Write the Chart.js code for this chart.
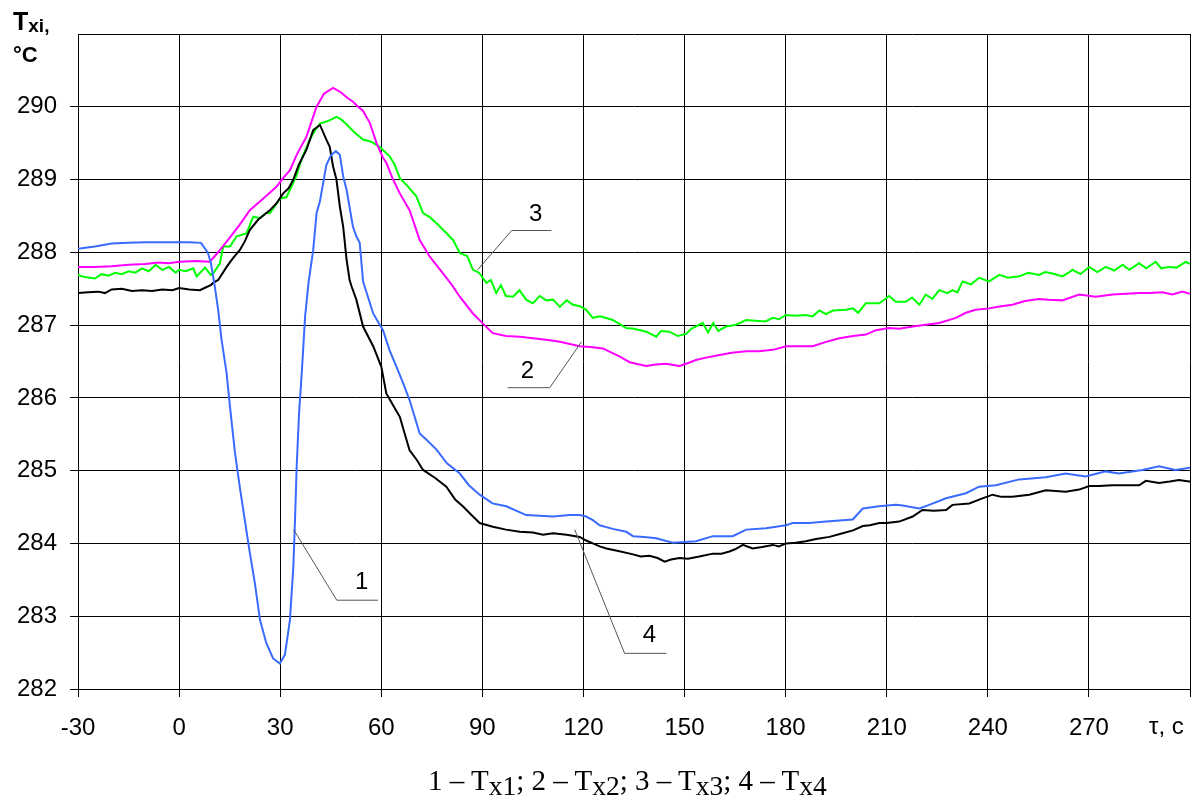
<!DOCTYPE html>
<html><head><meta charset="utf-8">
<script src="https://cdn.jsdelivr.net/npm/chart.js@4/dist/chart.umd.min.js"></script>
<style>
html,body{margin:0;padding:0;background:#fff;}
#wrap{position:relative;width:1197px;height:805px;}
#c{position:absolute;left:0;top:0;}
#ov{position:absolute;left:0;top:0;pointer-events:none;}
</style></head>
<body><div id="wrap"><canvas id="c" width="1197" height="805"></canvas>
<svg id="ov" width="1197" height="805" xmlns="http://www.w3.org/2000/svg">
<text x="13" y="30" font-family="Liberation Sans, Arial, sans-serif" font-weight="bold" font-size="25">T<tspan font-size="19" dy="2">xi,</tspan></text>
<text x="13" y="62" font-family="Liberation Sans, Arial, sans-serif" font-weight="bold" font-size="22">°C</text>
<text x="1149" y="734" font-family="Liberation Sans, Arial, sans-serif" font-size="24">τ, c</text>
<text id="cap" x="428" y="790" font-family="Liberation Serif, Times New Roman, serif" font-size="29">1 – T<tspan font-size="27.5" dy="5">x1</tspan><tspan dy="-5">; 2 – T</tspan><tspan font-size="27.5" dy="5">x2</tspan><tspan dy="-5">; 3 – T</tspan><tspan font-size="27.5" dy="5">x3</tspan><tspan dy="-5">; 4 – T</tspan><tspan font-size="27.5" dy="5">x4</tspan></text>
</svg></div>
<script>
// Axis ticks
const xTicks = [-30, 0, 30, 60, 90, 120, 150, 180, 210, 240, 270, 300];
const yTicks = [282, 283, 284, 285, 286, 287, 288, 289, 290, 291];

// Series: [time, temperature]
const tx1 = [[-30,288.05],[-25,288.08],[-20,288.12],[-15,288.13],[-10,288.14],[-5,288.14],[0,288.14],[3,288.14],[6.5,288.13],[8.5,288.0],[9.4,287.86],[10.1,287.67],[10.6,287.53],[11.6,287.21],[12.6,286.80],[14.1,286.34],[15.1,285.88],[16.6,285.24],[18.0,284.78],[19.5,284.32],[21.0,283.87],[22.5,283.45],[24.0,282.95],[25.9,282.63],[27.9,282.42],[29.9,282.35],[31.4,282.47],[32.9,282.95],[33.9,283.68],[34.4,284.32],[34.9,285.06],[35.6,285.79],[36.4,286.34],[37.4,287.12],[38.4,287.58],[39.8,288.03],[40.8,288.54],[41.8,288.7],[43.7,289.2],[45.0,289.33],[46.5,289.39],[47.7,289.34],[48.7,289.04],[49.7,288.86],[51.6,288.35],[52.6,288.22],[53.6,288.13],[54.6,287.6],[57.6,287.16],[60.5,286.93],[62.5,286.65],[64.5,286.43],[66.5,286.2],[68.4,285.97],[71.4,285.51],[73.5,285.42],[76.4,285.29],[79.5,285.1],[83.3,284.96],[86,284.8],[89.2,284.67],[93,284.55],[97.1,284.51],[103.0,284.39],[107,284.38],[111.0,284.37],[115.9,284.39],[118.9,284.39],[120.8,284.37],[122.8,284.32],[124.8,284.25],[128.7,284.2],[132.7,284.16],[134.7,284.10],[138,284.09],[141.6,284.07],[146.5,284.01],[150,284.02],[153.4,284.03],[158.4,284.10],[164.3,284.10],[168.3,284.19],[174.2,284.21],[180.1,284.25],[182.1,284.28],[187,284.28],[192.0,284.30],[199.9,284.33],[202.9,284.48],[207.8,284.51],[212.7,284.53],[214.7,284.52],[219.7,284.48],[222.6,284.53],[227.6,284.62],[233.5,284.69],[237.4,284.78],[242.4,284.80],[249.3,284.88],[257.2,284.91],[263.1,284.96],[269.0,284.92],[275.0,284.99],[278.9,284.96],[285.9,285.01],[290.8,285.06],[295.7,285.01],[300,285.04]];

const tx2 = [[-30,287.80],[-25,287.80],[-20,287.81],[-15,287.83],[-10,287.84],[-6.3,287.86],[-3,287.85],[0,287.87],[5,287.88],[9.1,287.87],[10.6,287.95],[12.1,288.03],[15,288.2],[18,288.38],[21,288.58],[25,288.74],[28.9,288.90],[30.5,289.0],[32.9,289.13],[35,289.35],[37.8,289.59],[40.8,290.0],[43,290.18],[45.7,290.26],[48,290.2],[50,290.12],[51.6,290.07],[53.1,290.0],[54.5,289.95],[56.6,289.78],[58.6,289.5],[60.5,289.3],[61.5,289.23],[63.5,289.0],[65.5,288.81],[68.4,288.58],[71.4,288.17],[74.4,287.94],[78.3,287.71],[81,287.55],[83.3,287.39],[87.2,287.16],[90.2,287.02],[93.1,286.89],[97,286.85],[101.1,286.84],[105,286.82],[108.9,286.80],[113,286.77],[118.9,286.71],[122,286.70],[125.8,286.68],[128,286.63],[130.7,286.57],[133.7,286.49],[138.6,286.44],[141.5,286.46],[144.5,286.47],[148.5,286.44],[150.5,286.47],[153.4,286.52],[156,286.55],[160.4,286.59],[164,286.62],[168.3,286.64],[172,286.64],[176.2,286.66],[180.1,286.71],[184,286.71],[188.0,286.71],[192,286.77],[196.0,286.82],[200,286.85],[203.8,286.87],[206.8,286.93],[210.7,286.96],[213.7,286.95],[217.7,286.98],[221,287.0],[225.6,287.03],[230.5,287.10],[233.5,287.17],[236.4,287.21],[240.4,287.23],[244,287.26],[247.3,287.28],[251,287.33],[255.2,287.36],[258,287.35],[262.1,287.34],[267.1,287.42],[272.0,287.39],[277.0,287.42],[281,287.43],[284.9,287.44],[288,287.44],[291.8,287.45],[294.8,287.42],[297.7,287.46],[300,287.43]];

const tx3 = [[-30,287.69],[-28,287.66],[-25,287.64],[-23,287.70],[-21,287.68],[-19,287.72],[-17,287.70],[-15,287.74],[-13,287.72],[-11,287.78],[-9,287.74],[-7,287.83],[-5,287.76],[-3,287.80],[-1,287.72],[0,287.76],[2,287.74],[4.2,287.78],[5.2,287.67],[7.7,287.79],[9.4,287.69],[10.1,287.71],[12.1,287.85],[13.1,288.08],[15.1,288.08],[17.1,288.22],[20,288.26],[22,288.49],[24,288.47],[25.9,288.54],[27,288.54],[30,288.74],[31.9,288.76],[34.8,289.05],[36.5,289.3],[38.8,289.55],[40,289.65],[41.8,289.77],[44,289.8],[46.7,289.86],[48,289.83],[49.7,289.76],[52,289.65],[54.6,289.55],[57,289.52],[59.5,289.45],[62.5,289.32],[64,289.2],[65.5,289.02],[68,288.9],[70.4,288.77],[72.4,288.54],[74.5,288.48],[76.4,288.40],[79,288.28],[81.3,288.17],[83.3,287.99],[85.5,287.95],[87.2,287.76],[89,287.72],[91.2,287.58],[92.5,287.62],[94.1,287.44],[95.5,287.55],[97,287.40],[99.1,287.39],[101,287.48],[103,287.35],[105,287.30],[107,287.40],[109,287.34],[111,287.35],[113,287.25],[115,287.34],[116.9,287.28],[118.9,287.26],[120.8,287.21],[122.8,287.10],[125,287.12],[128.7,287.07],[130.5,287.02],[132.7,286.96],[135,286.95],[138.6,286.91],[141.6,286.84],[143,286.92],[145.5,286.91],[148,286.85],[150.5,286.88],[152,286.95],[155.4,287.03],[157,286.9],[158.5,287.03],[160,286.92],[162.3,286.98],[165,287.0],[168.3,287.07],[171,287.06],[174,287.05],[176.2,287.10],[178,287.08],[180.1,287.14],[183,287.13],[186.0,287.14],[188,287.12],[190.0,287.20],[192,287.15],[194,287.20],[197.9,287.21],[200,287.23],[201.5,287.17],[203.8,287.30],[207.8,287.30],[210.7,287.40],[212.7,287.32],[215.7,287.32],[217.5,287.38],[219.7,287.28],[221.6,287.42],[223.5,287.36],[225.6,287.48],[228,287.44],[229.5,287.48],[231,287.45],[232.5,287.60],[235,287.56],[237.4,287.65],[240.4,287.60],[243.4,287.69],[246,287.65],[249.3,287.67],[252,287.72],[255.2,287.69],[257,287.73],[259.2,287.71],[262.1,287.67],[264,287.72],[265.1,287.76],[267.5,287.70],[270.1,287.80],[272.5,287.73],[275.0,287.80],[277.5,287.75],[280.0,287.83],[282,287.76],[284.9,287.85],[287,287.78],[289.8,287.87],[291.5,287.78],[293.8,287.80],[296,287.79],[298.7,287.87],[300,287.84]];

const tx4 = [[-30,287.44],[-27,287.45],[-24,287.46],[-22,287.44],[-20,287.49],[-17,287.50],[-14,287.47],[-11,287.48],[-8,287.47],[-5,287.49],[-2,287.48],[0,287.51],[3,287.49],[6.2,287.48],[8,287.52],[9.4,287.55],[10.1,287.58],[11.6,287.62],[14.1,287.80],[16,287.92],[18,288.03],[19.5,288.15],[21,288.31],[23.5,288.45],[25.9,288.54],[27,288.58],[29,288.68],[30.9,288.81],[32.5,288.88],[33.9,289.0],[35.5,289.2],[37.8,289.41],[39.8,289.68],[41.8,289.75],[43.7,289.55],[44.7,289.45],[45.7,289.18],[46.7,289.0],[47.7,288.63],[48.7,288.35],[49.7,287.9],[50.6,287.62],[51.2,287.53],[52.6,287.35],[54.6,286.98],[57.6,286.71],[60.0,286.43],[61.5,286.06],[63.5,285.9],[65.5,285.74],[67,285.5],[68.4,285.28],[70.5,285.15],[72.4,285.01],[76,284.9],[79.3,284.78],[82,284.6],[84.2,284.51],[87,284.38],[89.2,284.28],[93.1,284.23],[97,284.19],[101.1,284.16],[105,284.15],[108,284.12],[111.0,284.14],[115,284.12],[118.9,284.09],[120.8,284.04],[122.8,284.0],[124.8,283.96],[126.8,283.93],[130,283.90],[134.7,283.85],[137,283.82],[139.6,283.83],[142,283.80],[144.1,283.75],[146,283.78],[148.5,283.80],[151,283.79],[154.4,283.82],[158.4,283.86],[161,283.86],[163.3,283.89],[165,283.92],[167.3,283.98],[170.2,283.93],[173,283.95],[176.2,283.98],[178,283.96],[180.1,284.0],[183,284.01],[186.0,284.03],[189,284.06],[193.0,284.09],[196.9,284.14],[200,284.18],[202.9,284.24],[205,284.25],[207.8,284.28],[210,284.28],[213.7,284.30],[217.7,284.37],[220.6,284.46],[224,284.45],[227.6,284.46],[229.5,284.53],[234.5,284.55],[238.4,284.62],[241.4,284.67],[244,284.64],[247.3,284.64],[252.3,284.67],[257.2,284.73],[263.1,284.71],[267.1,284.74],[270.1,284.79],[273,284.79],[277.0,284.80],[281,284.80],[284.9,284.80],[286.9,284.86],[290.8,284.83],[294,284.85],[296.7,284.87],[299.7,284.85],[300,284.85]];

// Curve labels and leader lines (data coordinates)
const curveLabels = ['1', '2', '3', '4'];
const labelPos = [[54.2,283.46],[103.4,286.36],[105.8,288.52],[139.6,282.73]];
const leader1 = [[34.0,284.19],[46.8,283.22],[59.0,283.22]];
const leader2 = [[119.4,286.77],[110.0,286.14],[97.5,286.14]];
const leader3 = [[88.6,287.76],[98.7,288.30],[110.5,288.30]];
const leader4 = [[117.4,284.19],[132.2,282.49],[144.6,282.49]];

const toXY = arr => arr.map(p => ({x: p[0], y: p[1]}));
const FONT = 'Liberation Sans, Arial, sans-serif';

const series = (data, color) => ({data: toXY(data), borderColor: color, borderWidth: 2, pointRadius: 0, tension: 0, fill: false});
const leader = data => ({data: toXY(data), borderColor: '#555', borderWidth: 1, pointRadius: 0, tension: 0, fill: false});

const labelPlugin = {
  id: 'curveLabels',
  afterDatasetsDraw(chart) {
    const {ctx, scales: {x, y}} = chart;
    ctx.save();
    ctx.fillStyle = '#000';
    ctx.font = '24px ' + FONT;
    ctx.textAlign = 'center';
    ctx.textBaseline = 'middle';
    curveLabels.forEach((t, i) => {
      ctx.fillText(t, x.getPixelForValue(labelPos[i][0]), y.getPixelForValue(labelPos[i][1]));
    });
    ctx.restore();
  }
};

new Chart(document.getElementById('c'), {
  type: 'line',
  data: {
    datasets: [
      leader(leader1), leader(leader2), leader(leader3), leader(leader4),
      series(tx1, '#3a6bff'),
      series(tx4, '#000000'),
      series(tx2, '#ff00ff'),
      series(tx3, '#00ff00')
    ]
  },
  options: {
    responsive: false,
    animation: false,
    events: [],
    layout: {padding: {left: 0, top: 34, right: 7, bottom: 0}},
    plugins: {legend: {display: false}, tooltip: {enabled: false}},
    scales: {
      x: {
        type: 'linear', min: xTicks[0], max: xTicks[xTicks.length - 1],
        afterBuildTicks: s => { s.ticks = xTicks.map(v => ({value: v})); },
        afterFit: s => { s.height = 116; s.paddingRight = 0; s.paddingLeft = 0; },
        ticks: {font: {family: FONT, size: 24}, color: '#000', padding: 17, maxRotation: 0, autoSkip: false,
          callback: v => (v === 300 ? '' : String(v))},
        grid: {color: '#000', lineWidth: 1, tickLength: 8, tickColor: '#000'},
        border: {color: '#000', width: 1}
      },
      y: {
        type: 'linear', min: yTicks[0], max: yTicks[yTicks.length - 1],
        afterBuildTicks: s => { s.ticks = yTicks.map(v => ({value: v})); },
        afterFit: s => { s.width = 78; s.paddingTop = 0; s.paddingBottom = 0; },
        ticks: {font: {family: FONT, size: 24}, color: '#000', padding: 13,
          callback: v => (v === 291 ? '' : String(v))},
        grid: {color: '#000', lineWidth: 1, tickLength: 8,
          tickColor: c => (c.tick && c.tick.value === 291 ? 'rgba(0,0,0,0)' : '#000')},
        border: {color: '#000', width: 1}
      }
    }
  },
  plugins: [labelPlugin]
});
</script></body></html>
